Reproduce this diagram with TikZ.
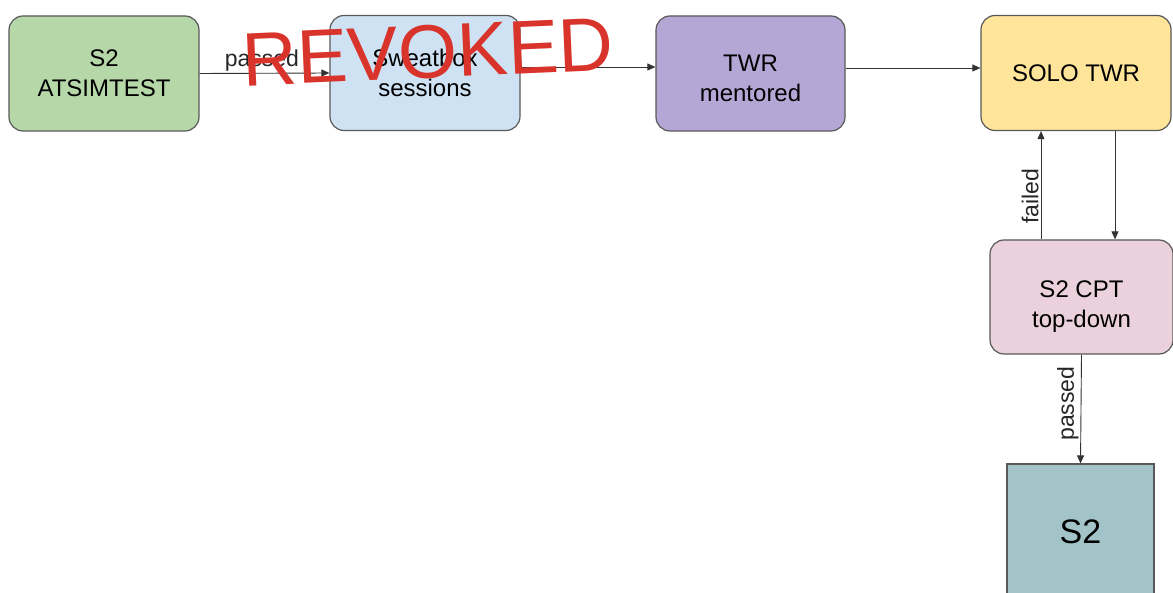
\documentclass[tikz,border=0pt]{standalone}
\usepackage{fontspec}
\setmainfont{Liberation Sans}
\usetikzlibrary{arrows.meta}
\definecolor{boxline}{HTML}{595959}
\definecolor{linkgray}{HTML}{333333}
\definecolor{simgreen}{HTML}{B6D7A8}
\definecolor{sweatblue}{HTML}{CFE2F3}
\definecolor{twrpurple}{HTML}{B4A7D6}
\definecolor{soloyellow}{HTML}{FFE599}
\definecolor{cptpink}{HTML}{EAD1DC}
\definecolor{stwoteal}{HTML}{A2C4C9}
\definecolor{revokedred}{HTML}{D9342B}

\begin{document}
\begin{tikzpicture}[
      x=1pt, y=-1pt,
      box/.style={draw=boxline, line width=1.2pt, rounded corners=14pt,
        minimum width=190pt, minimum height=115pt, inner sep=0pt,
        align=center, font=\fontsize{24}{30}\selectfont},
      link/.style={draw=linkgray, line width=0.9pt,
        -{Triangle[length=8pt,width=7pt]}},
      lbl/.style={font=\fontsize{23}{26}\selectfont, inner sep=2pt, text=black!85}
    ]
    \fill[white] (0,0) rectangle (1173,593);
    \clip (0,0) rectangle (1173,593);

    % top row
    \node[box, fill=simgreen] (atsim) at (104,73.5) {S2\\ATSIMTEST};
    \node[box, fill=sweatblue] (sweat) at (425,73) {Sweatbox\\sessions};
    \node[box, fill=twrpurple, minimum width=189pt] (twr) at (750.5,73.5)
      {\rule{0pt}{26pt}TWR\\mentored};
    \node[box, fill=soloyellow] (solo) at (1076,73) {SOLO TWR};

    % right column
    \node[box, fill=cptpink, minimum width=183pt, minimum height=114pt]
      (cpt) at (1081.5,297) {\rule{0pt}{35pt}S2 CPT\\top-down};
    \node[box, fill=stwoteal, rounded corners=0pt, minimum width=147pt,
      minimum height=160pt, font=\fontsize{34}{40}\selectfont]
      (stwo) at (1080.5,544) {\raisebox{25pt}{S2}};

    % connectors
    \draw[link] (atsim.east) -- node[lbl, above, pos=0.48] {passed} (sweat.west);
    \draw[link] ([yshift=6pt]sweat.east) -- ([yshift=6pt]sweat.east -| twr.west);
    \draw[link] ([yshift=5.5pt]twr.east) -- ([yshift=5.5pt]twr.east -| solo.west);
    \draw[link] ([xshift=39pt]solo.south) -- ([xshift=39pt]solo.south |- cpt.north);
    \draw[link] ([xshift=-40.5pt]cpt.north)
      -- node[lbl, rotate=90, anchor=south, pos=0.4] {failed}
      ([xshift=-40.5pt]cpt.north |- solo.south);
    \draw[link] (cpt.south)
      -- node[lbl, rotate=90, anchor=south, pos=0.45] {passed} (stwo.north);

    % scribbled over the top
    \node[text=revokedred, font=\fontsize{76}{80}\selectfont, rotate=2.5,
      inner sep=0pt] (revoked) at (428,52) {REVOKED};
  \end{tikzpicture}
\end{document}
